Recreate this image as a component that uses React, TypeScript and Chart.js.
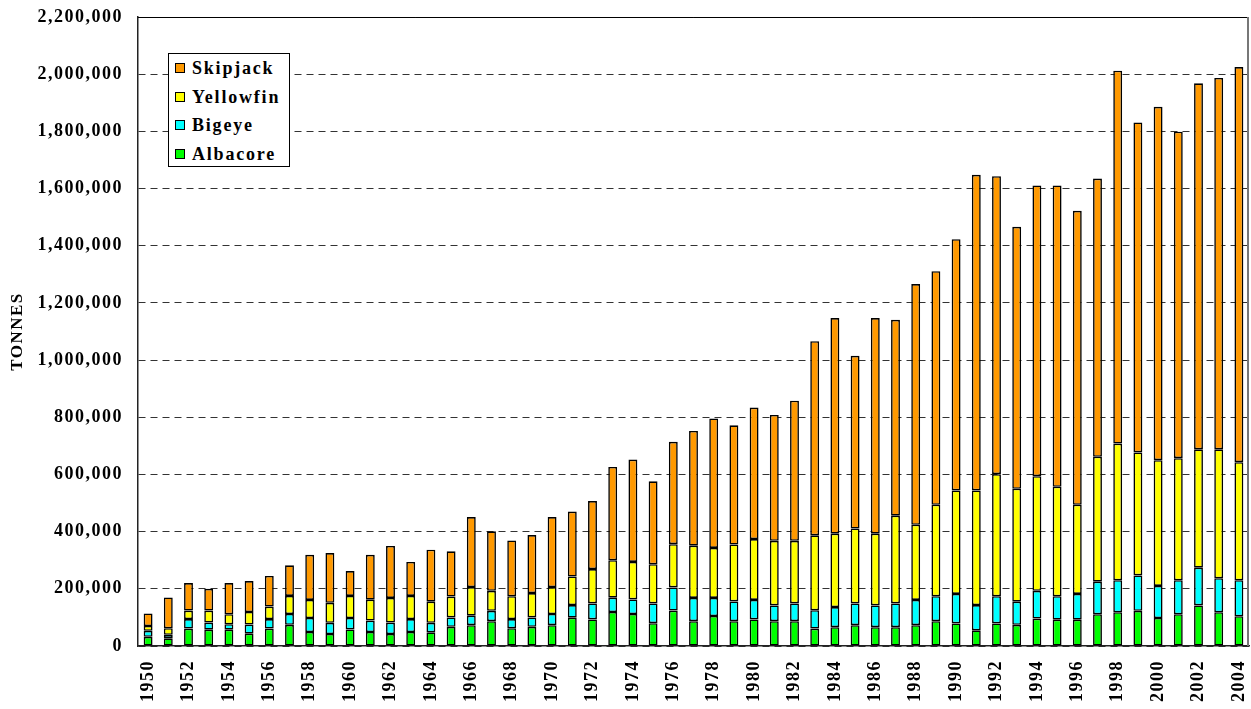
import React, { useEffect, useRef } from 'react';
import { Chart, registerables } from 'chart.js';

Chart.register(...registerables);

const years = [
  '1950', '1951', '1952', '1953', '1954', '1955', '1956', '1957', '1958', '1959',
  '1960', '1961', '1962', '1963', '1964', '1965', '1966', '1967', '1968', '1969',
  '1970', '1971', '1972', '1973', '1974', '1975', '1976', '1977', '1978', '1979',
  '1980', '1981', '1982', '1983', '1984', '1985', '1986', '1987', '1988', '1989',
  '1990', '1991', '1992', '1993', '1994', '1995', '1996', '1997', '1998', '1999',
  '2000', '2001', '2002', '2003', '2004',
];

const albacore = [
  32000, 27000, 61000, 57000, 57000, 43000, 61000, 74000, 49000, 42000,
  58000, 49000, 42000, 49000, 48000, 67000, 73000, 87000, 62000, 67000,
  73000, 99000, 93000, 119000, 112000, 80000, 124000, 87000, 105000, 87000,
  93000, 87000, 87000, 61000, 66000, 73000, 66000, 66000, 73000, 87000,
  79000, 55000, 79000, 74000, 96000, 92000, 92000, 111000, 118000, 123000,
  98000, 111000, 142000, 118000, 104000,
];

const bigeye = [
  21000, 12000, 33000, 25000, 19000, 32000, 33000, 38000, 49000, 39000,
  40000, 40000, 40000, 45000, 33000, 33000, 33000, 36000, 32000, 33000,
  39000, 44000, 56000, 50000, 51000, 69000, 81000, 81000, 63000, 69000,
  68000, 55000, 62000, 64000, 70000, 76000, 76000, 83000, 88000, 87000,
  103000, 88000, 95000, 81000, 97000, 82000, 90000, 114000, 112000, 124000,
  112000, 119000, 132000, 119000, 126000,
];

const yellowfin = [
  17000, 23000, 30000, 42000, 35000, 44000, 44000, 63000, 63000, 70000,
  77000, 73000, 86000, 81000, 74000, 73000, 100000, 70000, 80000, 85000,
  94000, 100000, 120000, 131000, 131000, 137000, 151000, 183000, 175000, 199000,
  213000, 226000, 219000, 262000, 257000, 262000, 251000, 307000, 263000, 320000,
  362000, 401000, 427000, 395000, 401000, 383000, 312000, 437000, 478000, 430000,
  440000, 427000, 414000, 451000, 413000,
];

const skipjack = [
  44000, 108000, 96000, 76000, 109000, 108000, 107000, 107000, 158000, 174000,
  87000, 157000, 182000, 119000, 182000, 158000, 245000, 208000, 195000, 203000,
  245000, 227000, 238000, 326000, 358000, 290000, 358000, 401000, 453000, 417000,
  460000, 440000, 490000, 679000, 754000, 604000, 754000, 685000, 842000, 817000,
  879000, 1104000, 1042000, 916000, 1017000, 1054000, 1028000, 973000, 1304000, 1154000,
  1236000, 1142000, 1280000, 1299000, 1382000,
];

const seriesNames = ['Albacore', 'Bigeye', 'Yellowfin', 'Skipjack'];
const seriesColors = ['#00FF00', '#00FFFF', '#FFFF00', '#FF9900'];
const seriesData = [albacore, bigeye, yellowfin, skipjack];

const yMax = 2200000;
const yStep = 200000;

const FONT = '"Liberation Serif", "Times New Roman", serif';

const framePlugin = {
  id: 'frame',
  beforeDraw(chart: any) {
    (chart.ctx as any).letterSpacing = '1.5px';
  },
  afterDraw(chart: any) {
    const { ctx, chartArea: a } = chart;
    ctx.save();
    ctx.setLineDash([]);
    ctx.strokeStyle = '#000';
    ctx.lineWidth = 1;
    ctx.beginPath();
    ctx.moveTo(a.left, a.top + 0.5);
    ctx.lineTo(a.right, a.top + 0.5);
    ctx.stroke();
    ctx.strokeStyle = '#777';
    ctx.lineWidth = 2;
    ctx.beginPath();
    ctx.moveTo(a.right - 1, a.top);
    ctx.lineTo(a.right - 1, a.bottom);
    ctx.stroke();
    ctx.restore();
    (ctx as any).letterSpacing = '0px';
  },
};

export default function App() {
  const canvasRef = useRef<HTMLCanvasElement | null>(null);

  useEffect(() => {
    if (!canvasRef.current) return;
    const chart = new Chart(canvasRef.current, {
      type: 'bar',
      data: {
        labels: years,
        datasets: seriesNames.map((name, i) => ({
          label: name,
          data: seriesData[i],
          backgroundColor: seriesColors[i],
          borderColor: '#000',
          borderWidth: 1.6,
          borderSkipped: false,
          categoryPercentage: 1,
          barPercentage: 0.44,
        })),
      },
      options: {
        responsive: false,
        animation: false,
        layout: { padding: { left: 0, top: 17, right: 2, bottom: 0 } },
        plugins: {
          legend: { display: false },
          tooltip: { enabled: false },
        },
        scales: {
          x: {
            stacked: true,
            grid: { display: false, drawTicks: false },
            border: { display: true, color: '#222', width: 1.5 },
            ticks: {
              autoSkip: false,
              maxRotation: 90,
              minRotation: 90,
              padding: 14,
              color: '#000',
              font: { family: FONT, size: 18, weight: 'bold' },
              callback: (_v: any, idx: number) => (idx % 2 === 0 ? years[idx] : ''),
            },
            afterFit: (scale: any) => {
              scale.height = 63;
              scale.paddingLeft = 0;
              scale.paddingRight = 0;
            },
          },
          y: {
            stacked: true,
            min: 0,
            max: yMax,
            grid: { color: '#333', lineWidth: 1, drawTicks: false, borderDash: [7, 5] } as any,
            border: { display: true, color: '#222', width: 1.5, dash: [7, 5] },
            ticks: {
              stepSize: yStep,
              padding: 15,
              color: '#000',
              font: { family: FONT, size: 18, weight: 'bold' },
              callback: (v: any) => Number(v).toLocaleString('en-US'),
            },
            title: {
              display: true,
              text: 'TONNES',
              color: '#000',
              font: { family: FONT, size: 17, weight: 'bold' },
              padding: { top: 7, bottom: 0 },
            },
            afterFit: (scale: any) => {
              scale.width = 138;
              scale.paddingTop = 0;
              scale.paddingBottom = 0;
            },
          },
        },
      },
      plugins: [framePlugin],
    });
    return () => chart.destroy();
  }, []);

  const legendItems = seriesNames.map((n, i) => ({ name: n, color: seriesColors[i] })).reverse();
  const rowCenters = [15, 43.5, 72, 100.5];

  return (
    <div style={{ position: 'absolute', left: 0, top: 0, width: 1251, height: 709, background: '#fff' }}>
      <canvas ref={canvasRef} width={1251} height={709} style={{ display: 'block', width: 1251, height: 709 }} />
      <div
        style={{
          position: 'absolute',
          left: 168,
          top: 53,
          width: 122,
          height: 114,
          boxSizing: 'border-box',
          border: '1px solid #000',
          background: '#fff',
          fontFamily: FONT,
          fontWeight: 'bold',
          fontSize: 18,
          letterSpacing: '1.8px',
          color: '#000',
        }}
      >
        {legendItems.map((it, i) => (
          <div
            key={it.name}
            style={{
              position: 'absolute',
              left: 6,
              top: rowCenters[i] - 11,
              height: 20,
              display: 'flex',
              alignItems: 'center',
              whiteSpace: 'nowrap',
            }}
          >
            <span
              style={{
                display: 'inline-block',
                width: 8,
                height: 8,
                border: '1.5px solid #000',
                background: it.color,
                marginRight: 7,
              }}
            />
            <span style={{ lineHeight: '20px' }}>{it.name}</span>
          </div>
        ))}
      </div>
    </div>
  );
}
